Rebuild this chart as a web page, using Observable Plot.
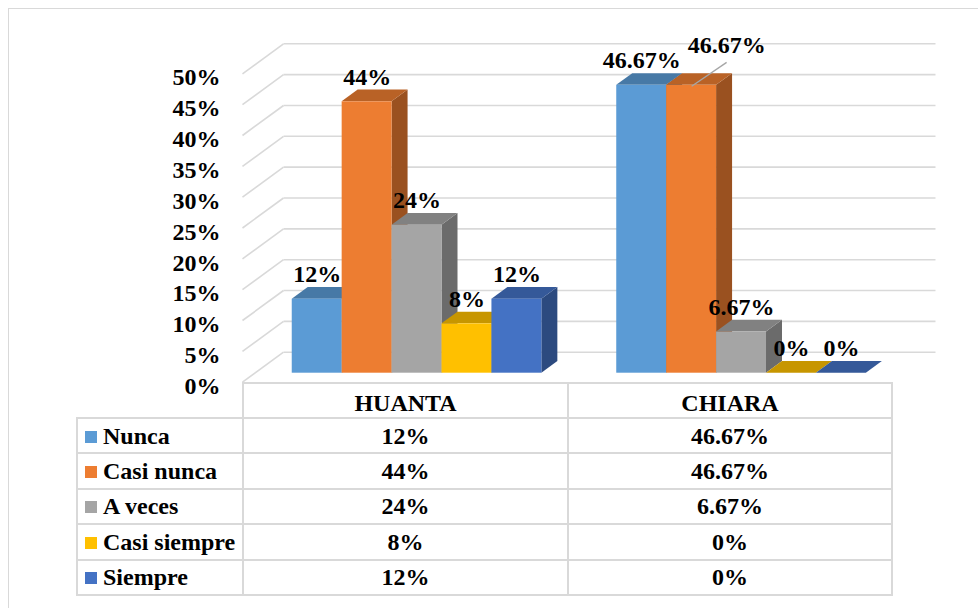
<!DOCTYPE html>
<html><head><meta charset="utf-8">
<script src="https://cdn.jsdelivr.net/npm/d3@7"></script>
<script src="https://cdn.jsdelivr.net/npm/@observablehq/plot@0.6"></script>
<style>
html,body{margin:0;padding:0;background:#fff;}
#wrap{position:relative;width:978px;height:608px;overflow:hidden;font-family:"Liberation Serif","Times New Roman",serif;font-weight:bold;color:#000;}
#frame{position:absolute;left:8px;top:8px;width:990px;height:620px;border-top:1.5px solid #d9d9d9;border-left:1.5px solid #d9d9d9;}
#chart{position:absolute;left:0;top:0;}
#chart svg{overflow:visible;}
table{position:absolute;left:76px;top:382px;border-collapse:collapse;table-layout:fixed;font-size:24px;font-family:"Liberation Serif","Times New Roman",serif;}
td,th{border:2px solid #d9d9d9;padding:0;text-align:center;font-weight:bold;white-space:nowrap;line-height:26px;}
tr.body td{height:33.4px;}
tr.head th{height:32px;vertical-align:bottom;padding-bottom:1px;}
tr.head th.blank{border-top:none;border-left:none;}
td.lab{text-align:left;padding-left:7px;}
.key{display:inline-block;width:12px;height:12px;margin-right:6px;vertical-align:1px;}
</style></head>
<body>
<div id="wrap"><div id="frame"></div><div id="chart"></div><table id="tbl"></table></div>
<script>
// ---- data ----
const categories = ["HUANTA", "CHIARA"];
const series = ["Nunca", "Casi nunca", "A veces", "Casi siempre", "Siempre"];
const huantaValues = [12, 44, 24, 8, 12];
const chiaraValues = [46.67, 46.67, 6.67, 0, 0];
const yTicks = [0, 5, 10, 15, 20, 25, 30, 35, 40, 45, 50];

// ---- style ----
const colors = ["#5B9BD5", "#ED7D31", "#A5A5A5", "#FFC000", "#4472C4"];
const shade = (c, k) => { const r = d3.rgb(c); return d3.rgb(r.r * k, r.g * k, r.b * k).formatHex(); };
const fmt = v => v + "%";
const FONT = '"Liberation Serif","Times New Roman",serif';
const FS = 24;

// geometry (layout constants)
const W = 978, H = 400;
const left = 242, right = 891, yZero = 381.7, yTop = 73.3;
const SLOT = 6.5, PAD = 0.75;
const XMAX = categories.length * SLOT;
const PXX = (right - left) / XMAX;        // px per x unit
const PXY = (yZero - yTop) / 50;          // px per y unit
const DX = 41 / PXX, DY = 30 / PXY;       // full floor depth in data units
const T0 = 0.3, T1 = 0.69;                // bar front / back depth

const valuesBy = [huantaValues, chiaraValues];
const bars = [];
categories.forEach((cat, g) => series.forEach((s, i) => {
  const v = valuesBy[g][i];
  const x1 = g * SLOT + PAD + i + DX * T0;
  bars.push({cat, s, v, i, x1, x2: x1 + 1, y0: DY * T0, yt: v + DY * T0,
    c: colors[i], ct: shade(colors[i], 0.78), cs: shade(colors[i], 0.65)});
}));
const dXd = DX * (T1 - T0), dYd = DY * (T1 - T0);
const topPts = [], sidePts = [];
bars.forEach((b, k) => {
  topPts.push({k, c: b.ct, x: b.x1, y1: b.yt, y2: b.yt},
              {k, c: b.ct, x: b.x1 + dXd, y1: b.yt, y2: b.yt + dYd},
              {k, c: b.ct, x: b.x2, y1: b.yt, y2: b.yt + dYd},
              {k, c: b.ct, x: b.x2 + dXd, y1: b.yt + dYd, y2: b.yt + dYd});
  sidePts.push({k, c: b.cs, x: b.x2, y1: b.y0, y2: b.yt},
               {k, c: b.cs, x: b.x2 + dXd, y1: b.y0 + dYd, y2: b.yt + dYd});
});
// the label that is moved aside with a leader line
const isMoved = b => b.cat === "CHIARA" && b.s === "Casi nunca";
const moved = bars.filter(isMoved);
const normal = bars.filter(b => !isMoved(b));
const LX = 35 / PXX, LY = 23 / PXY;

const plot = Plot.plot({
  width: W, height: H,
  marginLeft: left, marginRight: W - right, marginTop: yTop, marginBottom: H - yZero,
  x: {domain: [0, XMAX], axis: null},
  y: {domain: [0, 50], axis: null},
  color: {type: "identity"},
  style: {fontFamily: FONT, fontSize: FS + "px", fontWeight: "bold", background: "transparent", color: "#000"},
  marks: [
    Plot.link(yTicks, {x1: () => 0, y1: d => d, x2: () => DX, y2: d => d + DY, stroke: "#d9d9d9", strokeWidth: 1.6}),
    Plot.link(yTicks, {x1: () => DX, y1: d => d + DY, x2: () => XMAX + DX + 0.06, y2: d => d + DY, stroke: "#d9d9d9", strokeWidth: 1.6}),
    Plot.text(yTicks, {x: () => 0, y: d => d, text: fmt, textAnchor: "end", dx: -22, dy: 4, fontSize: FS, fontWeight: "bold", fill: "#000"}),
    Plot.area(sidePts, {x1: "x", y1: "y1", y2: "y2", z: "k", fill: "c"}),
    Plot.area(topPts, {x1: "x", y1: "y1", y2: "y2", z: "k", fill: "c"}),
    Plot.rect(bars, {x1: "x1", x2: "x2", y1: "y0", y2: "yt", fill: "c"}),
    Plot.link(moved, {x1: b => b.x1 + 0.5, y1: b => b.yt - 0.15, x2: b => b.x1 + 0.5 + LX, y2: b => b.yt + LY, stroke: "#a6a6a6", strokeWidth: 1.4}),
    Plot.text(normal, {x: b => b.x1 + 0.5, y: "yt", text: b => fmt(b.v), lineAnchor: "bottom", dy: -17, fontSize: FS, fontWeight: "bold", fill: "#000"}),
    Plot.text(moved, {x: b => b.x1 + 0.5 + LX, y: "yt", text: b => fmt(b.v), lineAnchor: "bottom", dy: -32, fontSize: FS, fontWeight: "bold", fill: "#000"})
  ]
});
document.getElementById("chart").appendChild(plot);

// ---- data table (legend + values) ----
const tbl = d3.select("#tbl");
const cg = tbl.append("colgroup");
[166, 325, 324].forEach(w => cg.append("col").style("width", w + "px"));
const hr = tbl.append("tr").attr("class", "head");
hr.append("th").attr("class", "blank");
categories.forEach(c => hr.append("th").text(c));
series.forEach((s, i) => {
  const tr = tbl.append("tr").attr("class", "body");
  const td = tr.append("td").attr("class", "lab");
  td.append("span").attr("class", "key").style("background", colors[i]);
  td.append("span").text(s);
  valuesBy.forEach(vals => tr.append("td").text(fmt(vals[i])));
});
</script>
</body></html>
